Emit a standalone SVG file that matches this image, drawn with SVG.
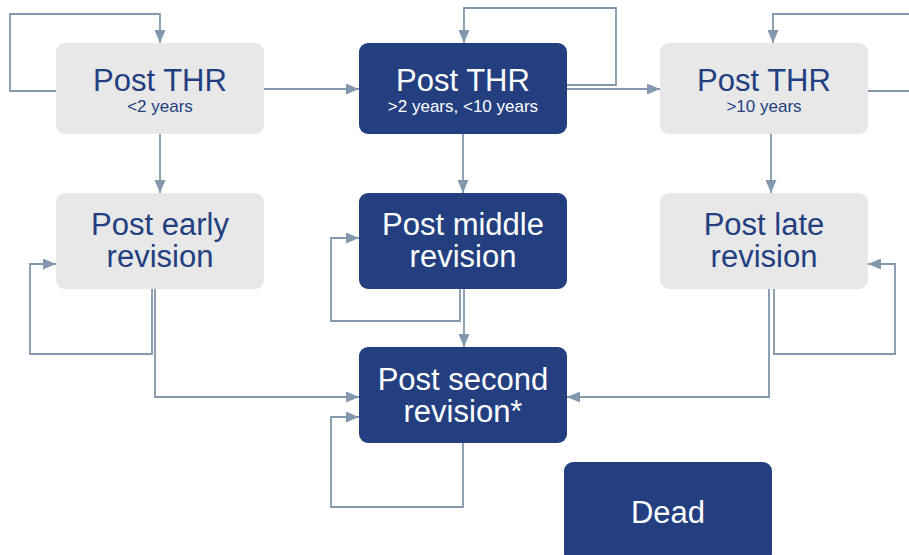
<svg xmlns="http://www.w3.org/2000/svg" width="909" height="555" viewBox="0 0 909 555">
<defs>
<marker id="arr" markerUnits="userSpaceOnUse" markerWidth="13" markerHeight="11" refX="13" refY="5.5" orient="auto">
<path d="M0,0 L13,5.5 L0,11 z" fill="#8397ad"/>
</marker>
<style>
.light{fill:#e8e8e9}
.dark{fill:#233f80}
.t{font-family:"Liberation Sans",Arial,Helvetica,sans-serif;text-anchor:middle}
.tl{fill:#233f80}
.td{fill:#ffffff}
.big{font-size:31px}
.small{font-size:17px}
.c{fill:none;stroke:#8397ad;stroke-width:1.8}
.a{marker-end:url(#arr)}
</style>
</defs>
<rect width="909" height="555" fill="#ffffff"/>
<g id="connectors">
<path class="c a" d="M56,91 H10 V14 H160 V43"/>
<path class="c a" d="M264,89 H359"/>
<path class="c a" d="M567,85 H616 V8 H464 V43"/>
<path class="c a" d="M567,89 H660"/>
<path class="c a" d="M868,91 H915 M915,14 H773 V43"/>
<path class="c a" d="M160,134 V193"/>
<path class="c a" d="M463,134 V193"/>
<path class="c a" d="M771,134 V193"/>
<path class="c a" d="M152,289 V354 H30 V264 H56"/>
<path class="c a" d="M155,289 V397 H359"/>
<path class="c a" d="M460,289 V321 H331 V238 H359"/>
<path class="c a" d="M464,289 V347"/>
<path class="c a" d="M774,289 V354 H895 V264 H868"/>
<path class="c a" d="M769,289 V397 H567"/>
<path class="c a" d="M463,443 V507 H331 V417 H359"/>
</g>
<g id="n_thr_lt2">
<rect class="light" x="56" y="43" width="208" height="91" rx="9"/>
<text class="t tl big" x="160" y="91">Post THR</text>
<text class="t tl small" x="160" y="112">&lt;2 years</text>
</g>
<g id="n_thr_2_10">
<rect class="dark" x="359" y="43" width="208" height="91" rx="9"/>
<text class="t td big" x="463" y="91">Post THR</text>
<text class="t td small" x="463" y="112">&gt;2 years, &lt;10 years</text>
</g>
<g id="n_thr_gt10">
<rect class="light" x="660" y="43" width="208" height="91" rx="9"/>
<text class="t tl big" x="764" y="91">Post THR</text>
<text class="t tl small" x="764" y="112">&gt;10 years</text>
</g>
<g id="n_early">
<rect class="light" x="56" y="193" width="208" height="96" rx="9"/>
<text class="t tl big" x="160" y="235">Post early</text>
<text class="t tl big" x="160" y="267">revision</text>
</g>
<g id="n_middle">
<rect class="dark" x="359" y="193" width="208" height="96" rx="9"/>
<text class="t td big" x="463" y="235">Post middle</text>
<text class="t td big" x="463" y="267">revision</text>
</g>
<g id="n_late">
<rect class="light" x="660" y="193" width="208" height="96" rx="9"/>
<text class="t tl big" x="764" y="235">Post late</text>
<text class="t tl big" x="764" y="267">revision</text>
</g>
<g id="n_second">
<rect class="dark" x="359" y="347" width="208" height="96" rx="9"/>
<text class="t td big" x="463" y="390">Post second</text>
<text class="t td big" x="463" y="422">revision*</text>
</g>
<g id="n_dead">
<rect class="dark" x="564" y="462" width="208" height="100" rx="9"/>
<text class="t td big" x="668" y="523">Dead</text>
</g>
</svg>
